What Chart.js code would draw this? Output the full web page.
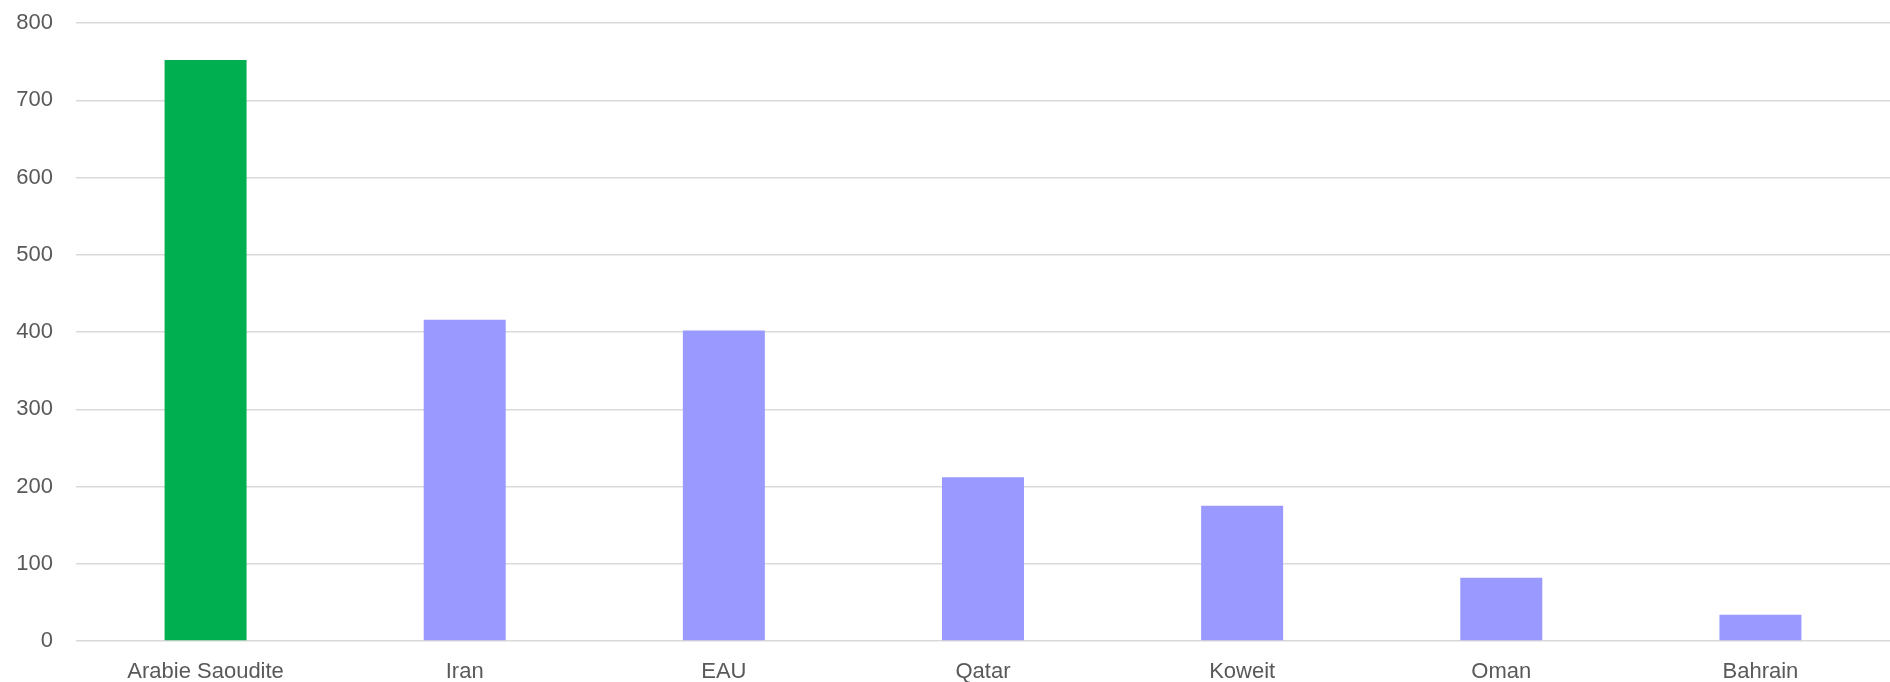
<!DOCTYPE html>
<html>
<head>
<meta charset="utf-8">
<script src="https://cdn.jsdelivr.net/npm/chart.js@4/dist/chart.umd.min.js"></script>
<style>
    html, body { margin: 0; padding: 0; background: #ffffff; }
    #wrap { width: 1890px; height: 682px; position: relative; }
</style>
</head>
<body>
<div id="wrap"><canvas id="gulfChart"></canvas></div>
<script>
// Chart data
const countries = ['Arabie Saoudite', 'Iran', 'EAU', 'Qatar', 'Koweit', 'Oman', 'Bahrain'];
const values = [752, 416, 402, 212, 175, 82, 34];
const yTicks = [0, 100, 200, 300, 400, 500, 600, 700, 800];

const GREEN = '#00B050';
const PURPLE = '#9999FF';

document.addEventListener('DOMContentLoaded', function() {
    const ctx = document.getElementById('gulfChart').getContext('2d');

    new Chart(ctx, {
        type: 'bar',
        data: {
            labels: countries,
            datasets: [{
                data: values,
                // first country is highlighted
                backgroundColor: function(c) {
                    return c.dataIndex === 0 ? GREEN : PURPLE;
                },
                borderWidth: 0,
                barPercentage: 1,
                categoryPercentage: 0.3164
            }]
        },
        options: {
            responsive: true,
            maintainAspectRatio: false,
            animation: false,
            layout: {
                padding: { top: 23, right: 0, left: 0, bottom: 0 }
            },
            plugins: {
                legend: { display: false },
                tooltip: { enabled: false }
            },
            scales: {
                x: {
                    grid: { display: false, drawTicks: false },
                    border: { display: false },
                    ticks: {
                        color: '#595959',
                        padding: 18,
                        font: { family: 'Liberation Sans, Arial, sans-serif', size: 22 }
                    },
                    afterFit: function(scale) { scale.height = 41; }
                },
                y: {
                    min: yTicks[0],
                    max: yTicks[yTicks.length - 1],
                    afterBuildTicks: function(scale) {
                        scale.ticks = yTicks.map(v => ({ value: v }));
                    },
                    grid: {
                        color: '#D9D9D9',
                        lineWidth: 1.5,
                        // invisible tick marks give the gap between labels and plot
                        drawTicks: true,
                        tickLength: 23,
                        tickColor: 'rgba(0,0,0,0)'
                    },
                    border: { display: false },
                    ticks: {
                        color: '#595959',
                        padding: 0,
                        font: { family: 'Liberation Sans, Arial, sans-serif', size: 22 }
                    },
                    afterFit: function(scale) { scale.width = 76; }
                }
            }
        }
    });
});
</script>
</body>
</html>
